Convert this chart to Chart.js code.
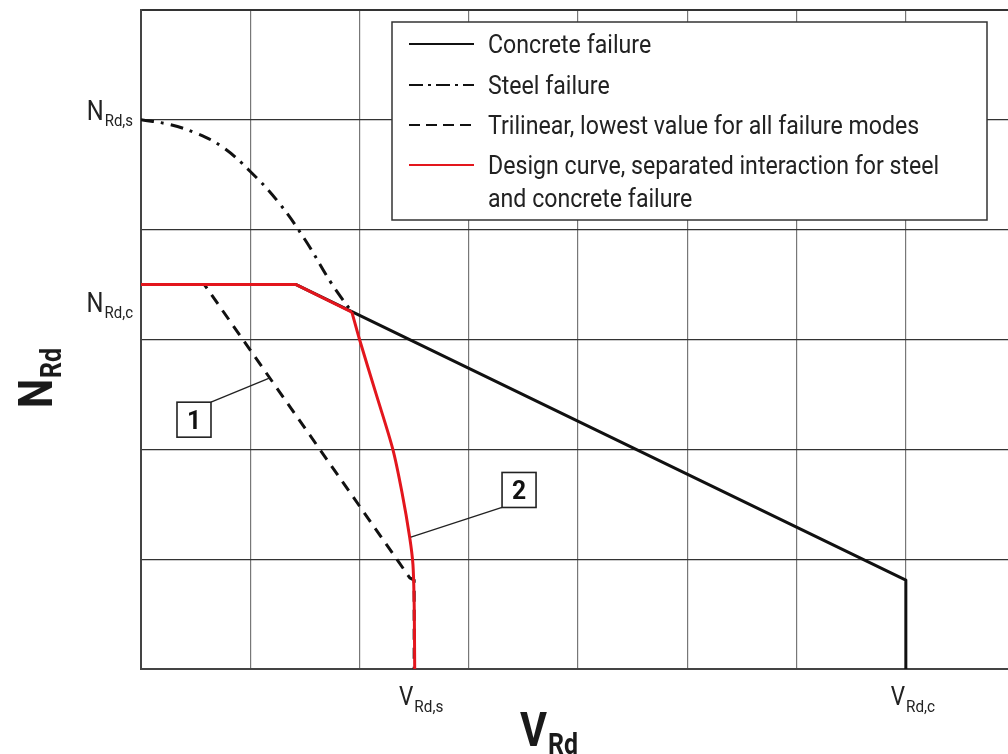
<!DOCTYPE html>
<html>
<head>
<meta charset="utf-8">
<script src="https://cdn.jsdelivr.net/npm/chart.js@4.4.0/dist/chart.umd.min.js"></script>
<style>
  html, body { margin: 0; padding: 0; background: #fff; }
  #wrap { width: 1008px; height: 754px; position: relative; }
</style>
</head>
<body>
<div id="wrap"><canvas id="chart"></canvas></div>
<script>
// values in grid units (x = V_Rd, y = N_Rd)
const concreteX = [0, 1.42, 7.0, 7.0]
const concreteY = [3.5, 3.5, 0.81, 0]

const steelX = [0, 0.25, 0.5, 0.75, 1.0, 1.25, 1.5, 1.75, 1.93]
const steelY = [5.0, 4.96, 4.88, 4.75, 4.53, 4.26, 3.91, 3.5, 3.25]

const trilinearX = [0, 0.58, 2.46, 2.5, 2.5]
const trilinearY = [3.5, 3.5, 0.83, 0.81, 0]

// design curve: straight part along the concrete line, then the curved steel part
const designLineX = [0, 1.42, 1.93]
const designLineY = [3.5, 3.5, 3.25]
const designCurveX = [1.93, 2.0, 2.153, 2.305, 2.39, 2.459, 2.489, 2.5, 2.503, 2.505]
const designCurveY = [3.25, 3.0, 2.5, 2.0, 1.6, 1.2, 0.95, 0.6, 0.3, 0]

const xTickValues = [2.5, 7.0]
const xTickLabels = [['V', 'Rd,s'], ['V', 'Rd,c']]
const yTickValues = [5.0, 3.5]
const yTickLabels = [['N', 'Rd,s'], ['N', 'Rd,c']]
const yTickNudge = [0, 27]

const legendLabels = ['Concrete failure', 'Steel failure', 'Trilinear, lowest value for all failure modes',
  ['Design curve, separated interaction for steel', 'and concrete failure']]

const calloutLabels = ['1', '2']
const calloutBoxAt = [[0.485, 2.27], [3.46, 1.63]]
const calloutPointAt = [[1.18, 2.65], [2.47, 1.2]]

const RED = '#e3161d'
const INK = '#111'
const FONT = "Roboto, 'Noto Sans', sans-serif"

const toPoints = (xs, ys) => xs.map((x, i) => ({x: x, y: ys[i]}))

function textW(ctx, s, sq){ return ctx.measureText(s).width * sq }

function fillC(ctx, s, x, y, sq){
  ctx.save()
  ctx.translate(x, y)
  ctx.scale(sq, 1)
  ctx.textAlign = 'left'
  ctx.textBaseline = 'alphabetic'
  ctx.fillText(s, 0, 0)
  ctx.restore()
}

// main letter plus subscript; align is 'left' | 'center' | 'right'
function drawSub(ctx, x, y, main, sub, mainSize, subSize, drop, weight, align, sq){
  const fMain = `${weight} ${mainSize}px ${FONT}`
  const fSub = `${weight} ${subSize}px ${FONT}`
  ctx.font = fMain
  const w1 = textW(ctx, main, sq)
  ctx.font = fSub
  const w2 = textW(ctx, sub, sq)
  const gap = 1
  let x0 = x
  if (align === 'right') x0 = x - w1 - gap - w2
  if (align === 'center') x0 = x - (w1 + gap + w2) / 2
  ctx.font = fMain
  fillC(ctx, main, x0, y, sq)
  ctx.font = fSub
  fillC(ctx, sub, x0 + w1 + gap, y + drop, sq)
}

// which dataset gives the legend sample for each legend row
const legendSource = [0, 1, 2, 3]

const textPlugin = {
  id: 'figureText',
  afterDatasetsDraw(chart){
    const ctx = chart.ctx
    const xs = chart.scales.x, ys = chart.scales.y
    const area = chart.chartArea

    // callouts
    ctx.save()
    calloutLabels.forEach((lab, i) => {
      const bx = xs.getPixelForValue(calloutBoxAt[i][0])
      const by = ys.getPixelForValue(calloutBoxAt[i][1])
      const px = xs.getPixelForValue(calloutPointAt[i][0])
      const py = ys.getPixelForValue(calloutPointAt[i][1])
      const w = 34, h = 35
      ctx.strokeStyle = '#222'
      ctx.lineWidth = 1.3
      ctx.beginPath()
      const cx = px > bx ? bx + w / 2 : bx - w / 2
      const cy = py < by ? by - h / 2 : by + h / 2
      ctx.moveTo(cx, cy)
      ctx.lineTo(px, py)
      ctx.stroke()
      ctx.fillStyle = '#fff'
      ctx.fillRect(bx - w / 2, by - h / 2, w, h)
      ctx.lineWidth = 1.6
      ctx.strokeRect(bx - w / 2, by - h / 2, w, h)
      ctx.fillStyle = INK
      ctx.font = `bold 26px ${FONT}`
      const tw = textW(ctx, lab, 0.95)
      fillC(ctx, lab, bx - tw / 2, by + 9.5, 0.95)
    })
    ctx.restore()

    // legend box
    const left = area.left + 251, top = area.top + 12
    const right = area.left + 846, bottom = area.top + 210
    ctx.save()
    ctx.fillStyle = '#fff'
    ctx.fillRect(left, top, right - left, bottom - top)
    ctx.strokeStyle = '#333'
    ctx.lineWidth = 1.5
    ctx.strokeRect(left, top, right - left, bottom - top)

    const rows = [top + 22, top + 63, top + 103, top + 143]
    legendSource.forEach((di, i) => {
      const ds = chart.data.datasets[di]
      const y = rows[i]
      ctx.strokeStyle = ds.borderColor
      ctx.lineWidth = 2
      ctx.setLineDash(ds.legendDash || [])
      ctx.beginPath()
      ctx.moveTo(left + 17, y)
      ctx.lineTo(left + 82, y)
      ctx.stroke()
      ctx.setLineDash([])
      ctx.fillStyle = '#222'
      ctx.font = `26px ${FONT}`
      const lines = Array.isArray(legendLabels[i]) ? legendLabels[i] : [legendLabels[i]]
      lines.forEach((t, j) => fillC(ctx, t, left + 96, y + 9 + j * 33, 0.89))
    })
    ctx.restore()
  },
  afterDraw(chart){
    const ctx = chart.ctx
    const xs = chart.scales.x, ys = chart.scales.y
    const area = chart.chartArea
    ctx.save()
    ctx.fillStyle = '#222'
    xTickValues.forEach((v, i) => {
      const px = xs.getPixelForValue(v)
      drawSub(ctx, px + 7, area.bottom + 36, xTickLabels[i][0], xTickLabels[i][1], 25, 17, 7, 'normal', 'center', 0.9)
    })
    yTickValues.forEach((v, i) => {
      const py = ys.getPixelForValue(v)
      drawSub(ctx, area.left - 8, py + yTickNudge[i], yTickLabels[i][0], yTickLabels[i][1], 27, 17, 6, 'normal', 'right', 0.88)
    })
    ctx.fillStyle = '#1a1a1a'
    // axis titles
    drawSub(ctx, area.left + 408, area.bottom + 77, 'V', 'Rd', 48, 29, 8, 'bold', 'center', 0.86)
    ctx.translate(52, 378)
    ctx.rotate(-Math.PI / 2)
    drawSub(ctx, 0, 0, 'N', 'Rd', 48, 29, 9, 'bold', 'center', 0.86)
    ctx.restore()
  }
}

new Chart(document.getElementById('chart'), {
  type: 'scatter',
  data: {
    datasets: [
      {
        label: 'Concrete failure',
        data: toPoints(concreteX, concreteY),
        borderColor: INK,
        borderWidth: 3,
        order: 4
      },
      {
        label: 'Steel failure',
        data: toPoints(steelX, steelY),
        borderColor: INK,
        borderWidth: 3,
        tension: 0.4,
        borderDash: [13, 7, 3, 7],
        legendDash: [14, 5, 3, 5],
        order: 3
      },
      {
        label: 'Trilinear, lowest value for all failure modes',
        data: toPoints(trilinearX, trilinearY),
        borderColor: INK,
        borderWidth: 3,
        borderDash: [11, 8],
        legendDash: [11, 6],
        order: 2
      },
      {
        label: 'Design curve, separated interaction for steel and concrete failure',
        data: toPoints(designLineX, designLineY),
        borderColor: RED,
        borderWidth: 3,
        order: 1
      },
      {
        label: 'Design curve (curved part)',
        data: toPoints(designCurveX, designCurveY),
        borderColor: RED,
        borderWidth: 3,
        tension: 0.3,
        order: 0
      }
    ]
  },
  options: {
    responsive: true,
    maintainAspectRatio: false,
    animation: false,
    showLine: true,
    elements: {
      point: { radius: 0, hoverRadius: 0 },
      line: { tension: 0, fill: false, borderCapStyle: 'butt', borderJoinStyle: 'round' }
    },
    layout: { padding: { left: 141, top: 10, right: 0, bottom: 85 } },
    plugins: {
      legend: { display: false },
      tooltip: { enabled: false }
    },
    scales: {
      x: {
        type: 'linear',
        min: 0,
        max: 7.935,
        afterBuildTicks: (scale) => { scale.ticks = scale.ticks.filter(t => Number.isInteger(t.value)) },
        ticks: { display: false, stepSize: 1 },
        grid: { color: '#777', lineWidth: 1.2, drawTicks: false },
        border: { color: '#444', width: 2 }
      },
      y: {
        type: 'linear',
        min: 0,
        max: 6,
        ticks: { display: false, stepSize: 1 },
        grid: {
          color: '#333',
          lineWidth: (c) => c.tick && c.tick.value === 6 ? 2 : 1.2,
          drawTicks: false
        },
        border: { color: '#444', width: 2 }
      }
    }
  },
  plugins: [textPlugin]
})
</script>
</body>
</html>
